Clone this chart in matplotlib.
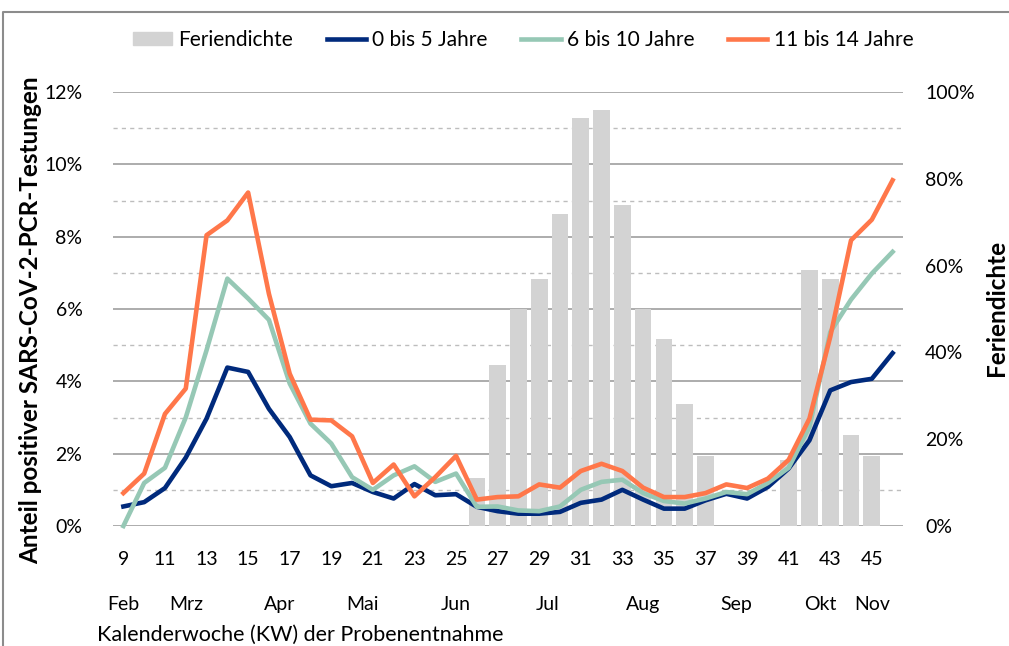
import matplotlib.pyplot as plt
from matplotlib.patches import Patch
from matplotlib.lines import Line2D
import numpy as np

# Kalenderwochen 9..46
kw = list(range(9, 47))

# Feriendichte in % (rechte Achse)
ferien = [0, 0, 0, 0, 0, 0, 0, 0, 0, 0, 0, 0, 0, 0, 0, 0, 0,
          11.1, 37.2, 50.1, 57.0, 72.0, 94.0, 95.9, 73.9, 50.1, 43.0, 28.0, 16.1,
          0, 0, 0,
          15.1, 59.1, 57.0, 20.9, 16.1,
          0]

# Anteil positiver Tests in % (linke Achse)
age_0_5 = [0.54, 0.66, 1.05, 1.89, 2.97, 4.38, 4.26, 3.24, 2.46, 1.40,
           1.10, 1.19, 0.94, 0.76, 1.16, 0.85, 0.88, 0.53, 0.41, 0.34,
           0.34, 0.39, 0.64, 0.73, 1.00, 0.73, 0.48, 0.48, 0.71, 0.89,
           0.76, 1.08, 1.59, 2.37, 3.75, 3.98, 4.07, 4.78]
age_6_10 = [0.00, 1.19, 1.61, 3.00, 4.86, 6.84, 6.29, 5.70, 3.94, 2.83,
            2.28, 1.35, 1.00, 1.40, 1.65, 1.22, 1.45, 0.53, 0.54, 0.43,
            0.41, 0.54, 1.00, 1.22, 1.28, 0.91, 0.69, 0.62, 0.76, 0.94,
            0.88, 1.19, 1.61, 2.74, 5.36, 6.26, 6.98, 7.58]
age_11_14 = [0.91, 1.45, 3.10, 3.80, 8.04, 8.45, 9.22, 6.42, 4.21, 2.94,
             2.92, 2.48, 1.19, 1.70, 0.82, 1.35, 1.94, 0.73, 0.80, 0.82,
             1.15, 1.06, 1.52, 1.72, 1.52, 1.06, 0.80, 0.80, 0.91, 1.15,
             1.05, 1.31, 1.83, 2.97, 5.23, 7.90, 8.47, 9.56]

months = ["Feb", "Mrz", "Apr", "Mai", "Jun", "Jul", "Aug", "Sep", "Okt", "Nov"]
month_pos = [9, 12, 16.5, 20.5, 25, 29.4, 34, 38.5, 42.5, 45]

c_bar = "#d3d3d3"
c_blue = "#002a7c"
c_green = "#96c8b5"
c_orange = "#ff774a"

plt.rcParams['font.family'] = ['Lato', 'DejaVu Sans']
fs = 14

W, H = 1009, 646
fig = plt.figure(figsize=(W / 100, H / 100), dpi=100)
rect = [113 / W, 1 - 526 / H, (903 - 113) / W, (526 - 92) / H]

# grid axis (left scale)
ax = fig.add_axes(rect)
ax.set_xlim(8.5, 46.5)
ax.set_ylim(0, 12)
ax.set_yticks(np.arange(0, 13, 2))
ax.set_yticklabels([f"{v}%" for v in range(0, 13, 2)], fontsize=fs)
ax.set_yticks(np.arange(1, 12, 2), minor=True)
ax.yaxis.grid(True, which='major', color='#a6a6a6', lw=1.3)
ax.yaxis.grid(True, which='minor', color='#bdbdbd', lw=1.0, ls=(0, (3, 3)))
ax.tick_params(axis='y', which='both', length=0, pad=22)
ax.set_xticks(kw[::2])
ax.set_xticklabels([str(k) for k in kw[::2]], fontsize=fs)
ax.tick_params(axis='x', length=0, pad=18)
for s in ax.spines.values():
    s.set_visible(False)
for m, p in zip(months, month_pos):
    ax.text(p, -0.18, m, transform=ax.get_xaxis_transform(), ha='center', va='center', fontsize=fs)
ax.text((97 - 113) / (903 - 113), -0.25, "Kalenderwoche (KW) der Probenentnahme",
        transform=ax.transAxes, ha='left', va='center', fontsize=15.5)

# axis titles
fig.text(31 / W, 1 - 320 / H, "Anteil positiver SARS-CoV-2-PCR-Testungen", rotation=90,
         ha='center', va='center', fontweight='bold', fontsize=17.5)
fig.text(997 / W, 1 - 308 / H, "Feriendichte", rotation=90,
         ha='center', va='center', fontweight='bold', fontsize=17.5)

# bars (right scale)
ax2 = ax.twinx()
ax2.bar(kw, ferien, width=0.8, color=c_bar, zorder=2)
ax2.set_ylim(0, 100)
ax2.set_yticks(np.arange(0, 101, 20))
ax2.set_yticklabels([f"{v}%" for v in range(0, 101, 20)], fontsize=fs)
ax2.tick_params(axis='y', length=0, pad=16)
for s in ax2.spines.values():
    s.set_visible(False)

# lines (left scale)
ax3 = ax.twinx()
ax3.set_ylim(0, 12)
ax3.set_yticks([])
for s in ax3.spines.values():
    s.set_visible(False)
ax3.plot(kw, age_0_5, color=c_blue, lw=3.3, solid_joinstyle='round', clip_on=False)
ax3.plot(kw, age_6_10, color=c_green, lw=3.3, solid_joinstyle='round', clip_on=False)
ax3.plot(kw, age_11_14, color=c_orange, lw=3.3, solid_joinstyle='round', clip_on=False)
ax3.set_xlim(8.5, 46.5)

handles = [Patch(color=c_bar, label="Feriendichte"),
           Line2D([], [], color=c_blue, lw=3.3, label="0 bis 5 Jahre"),
           Line2D([], [], color=c_green, lw=3.3, label="6 bis 10 Jahre"),
           Line2D([], [], color=c_orange, lw=3.3, label="11 bis 14 Jahre")]
fig.legend(handles=handles, loc='center', bbox_to_anchor=(523 / W, 1 - 40 / H), ncol=4,
           frameon=False, fontsize=15, handlelength=1.9, handleheight=0.6,
           handletextpad=0.3, columnspacing=1.6)

# chart border
fig.add_artist(Line2D([3 / W, 3 / W, 1], [0, 1 - 12 / H, 1 - 12 / H], color='#8c8c8c', lw=1.5))

fig.savefig("out.png", dpi=100)
